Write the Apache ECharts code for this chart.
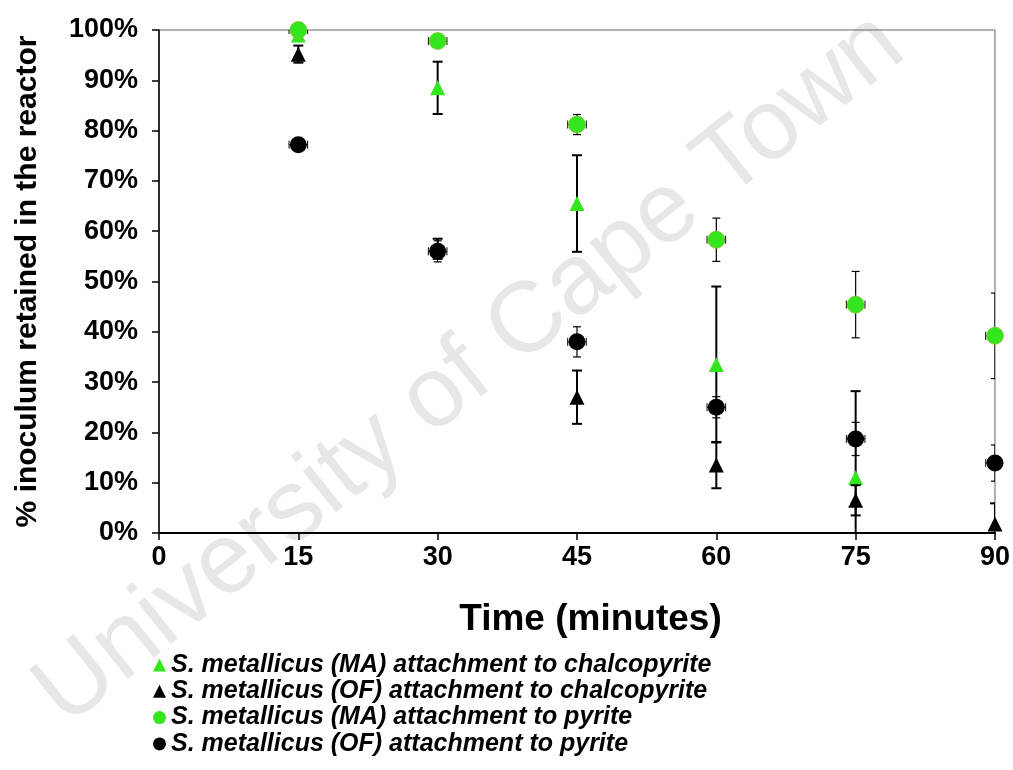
<!DOCTYPE html>
<html>
<head>
<meta charset="utf-8">
<script src="https://cdn.jsdelivr.net/npm/echarts@6/dist/echarts.min.js"></script>
<style>
html,body{margin:0;padding:0;background:#fff;}
#chart{width:1013px;height:770px;}
</style>
</head>
<body>
<div id="chart"></div>
<script>
// ---- data (percent retained) ----
const times = [15, 30, 45, 60, 75, 90];
const xTicks = [0, 15, 30, 45, 60, 75, 90];
const yTicks = [0, 10, 20, 30, 40, 50, 60, 70, 80, 90, 100];

const maChalco    = [99.0, 88.5, 65.5, 33.5, 11.0, null];
const maChalcoErr = [1.0, 5.2, 9.6, 15.5, 17.2, null];

const ofChalco    = [95.2, 56.5, 27.0, 13.5, 6.5, 1.8];
const ofChalcoErr = [1.7, 2.0, 5.3, 4.6, 3.0, 4.1];

const maPyrite    = [100.0, 97.8, 81.2, 58.3, 45.4, 39.2];
const maPyriteErr = [0.5, 0.5, 2.0, 4.3, 6.6, 8.5];

const ofPyrite    = [77.2, 56.0, 38.0, 25.0, 18.7, 13.9];
const ofPyriteErr = [0.8, 2.1, 3.0, 2.1, 3.3, 3.6];

const timeErr = [1, 1, 1, 1, 1, 1];   // horizontal error (minutes) on pyrite series

const names = [
  'S. metallicus (MA) attachment to chalcopyrite',
  'S. metallicus (OF) attachment to chalcopyrite',
  'S. metallicus (MA) attachment to pyrite',
  'S. metallicus (OF) attachment to pyrite'
];
const GREEN = '#33e61e';

function pts(ys) {
  const out = [];
  times.forEach((t, i) => { if (ys[i] != null) out.push([t, ys[i]]); });
  return out;
}
function errPts(ys, es, xes) {
  const out = [];
  times.forEach((t, i) => { if (ys[i] != null) out.push([t, ys[i], es[i], xes ? xes[i] : 0]); });
  return out;
}
function errSeries(name, ys, es, xes, lw, capW, z) {
  return {
    type: 'custom',
    name: name,
    clip: true,
    z: z,
    silent: true,
    data: errPts(ys, es, xes),
    renderItem: function (params, api) {
      const x = api.value(0), y = api.value(1), e = api.value(2), xe = api.value(3);
      const top = api.coord([x, y + e]);
      const bot = api.coord([x, y - e]);
      const st = { stroke: '#000', lineWidth: lw };
      const ch = [
        { type: 'line', shape: { x1: top[0], y1: top[1], x2: bot[0], y2: bot[1] }, style: st },
        { type: 'line', shape: { x1: top[0] - capW, y1: top[1], x2: top[0] + capW, y2: top[1] }, style: st },
        { type: 'line', shape: { x1: bot[0] - capW, y1: bot[1], x2: bot[0] + capW, y2: bot[1] }, style: st }
      ];
      if (xe > 0) {
        const l = api.coord([x - xe, y]);
        const r = api.coord([x + xe, y]);
        const hs = { stroke: '#000', lineWidth: 1 };
        ch.push({ type: 'line', shape: { x1: l[0], y1: l[1], x2: r[0], y2: r[1] }, style: hs });
        ch.push({ type: 'line', shape: { x1: l[0], y1: l[1] - 4, x2: l[0], y2: l[1] + 4 }, style: hs });
        ch.push({ type: 'line', shape: { x1: r[0], y1: r[1] - 4, x2: r[0], y2: r[1] + 4 }, style: hs });
      }
      return { type: 'group', children: ch };
    }
  };
}

const chart = echarts.init(document.getElementById('chart'), null, { renderer: 'canvas' });
const FONT = 'Liberation Sans, Arial, sans-serif';

chart.setOption({
  animation: false,
  backgroundColor: '#fff',
  graphic: [{
    type: 'text',
    z: -10,
    x: 470, y: 370,
    rotation: 0.674,
    style: {
      text: 'University of Cape Town',
      font: '100px ' + FONT,
      fill: '#e7e7e7',
      align: 'center',
      verticalAlign: 'middle'
    }
  }],
  grid: {
    left: 159, right: 16, top: 30, bottom: 237,
    show: true, borderColor: '#666', borderWidth: 1, backgroundColor: 'transparent'
  },
  legend: {
    orient: 'vertical',
    left: 148, top: 647,
    itemGap: 0.3,
    itemWidth: 13, itemHeight: 13,
    textStyle: { fontFamily: FONT, fontSize: 25, fontWeight: 'bold', fontStyle: 'italic', color: '#000', lineHeight: 26 },
    data: [
      { name: names[0], icon: 'triangle', itemStyle: { color: GREEN } },
      { name: names[1], icon: 'triangle', itemStyle: { color: '#000' } },
      { name: names[2], icon: 'circle', itemStyle: { color: GREEN } },
      { name: names[3], icon: 'circle', itemStyle: { color: '#000' } }
    ]
  },
  xAxis: {
    type: 'value', min: xTicks[0], max: xTicks[xTicks.length - 1], interval: 15,
    name: 'Time (minutes)', nameLocation: 'middle', nameGap: 68,
    nameTextStyle: { fontFamily: FONT, fontSize: 37, fontWeight: 'bold', color: '#000', padding: [0, 0, 0, 27] },
    axisLine: { lineStyle: { color: '#000', width: 2 } },
    axisTick: { inside: false, length: 7, lineStyle: { color: '#000', width: 1.5 } },
    axisLabel: { fontFamily: FONT, fontSize: 27, fontWeight: 'bold', color: '#000', margin: 11 },
    splitLine: { show: false }
  },
  yAxis: {
    type: 'value', min: yTicks[0], max: yTicks[yTicks.length - 1], interval: 10,
    name: '% inoculum retained in the reactor', nameLocation: 'middle', nameGap: 116,
    nameTextStyle: { fontFamily: FONT, fontSize: 30, fontWeight: 'bold', color: '#000' },
    axisLine: { lineStyle: { color: '#000', width: 1.5 } },
    axisTick: { inside: false, length: 7, lineStyle: { color: '#000', width: 1.5 } },
    axisLabel: { fontFamily: FONT, fontSize: 27, fontWeight: 'bold', color: '#000', margin: 21, formatter: '{value}%' },
    splitLine: { show: false }
  },
  series: [
    errSeries(names[0], maChalco, maChalcoErr, null, 2, 5, 3),
    { type: 'scatter', name: names[0], data: pts(maChalco), symbol: 'triangle', symbolSize: 15, z: 4,
      itemStyle: { color: GREEN, opacity: 1 } },
    errSeries(names[1], ofChalco, ofChalcoErr, null, 2, 5, 5),
    { type: 'scatter', name: names[1], data: pts(ofChalco), symbol: 'triangle', symbolSize: 15, z: 6,
      itemStyle: { color: '#000', opacity: 1 } },
    errSeries(names[2], maPyrite, maPyriteErr, timeErr, 1.2, 4, 7),
    { type: 'scatter', name: names[2], data: pts(maPyrite), symbol: 'circle', symbolSize: 17, z: 8,
      itemStyle: { color: GREEN, borderColor: '#8fbf3a', borderWidth: 0.8, opacity: 1 } },
    errSeries(names[3], ofPyrite, ofPyriteErr, timeErr, 1.2, 4, 9),
    { type: 'scatter', name: names[3], data: pts(ofPyrite), symbol: 'circle', symbolSize: 17, z: 10,
      itemStyle: { color: '#000', opacity: 1 } }
  ]
});
</script>
</body>
</html>
